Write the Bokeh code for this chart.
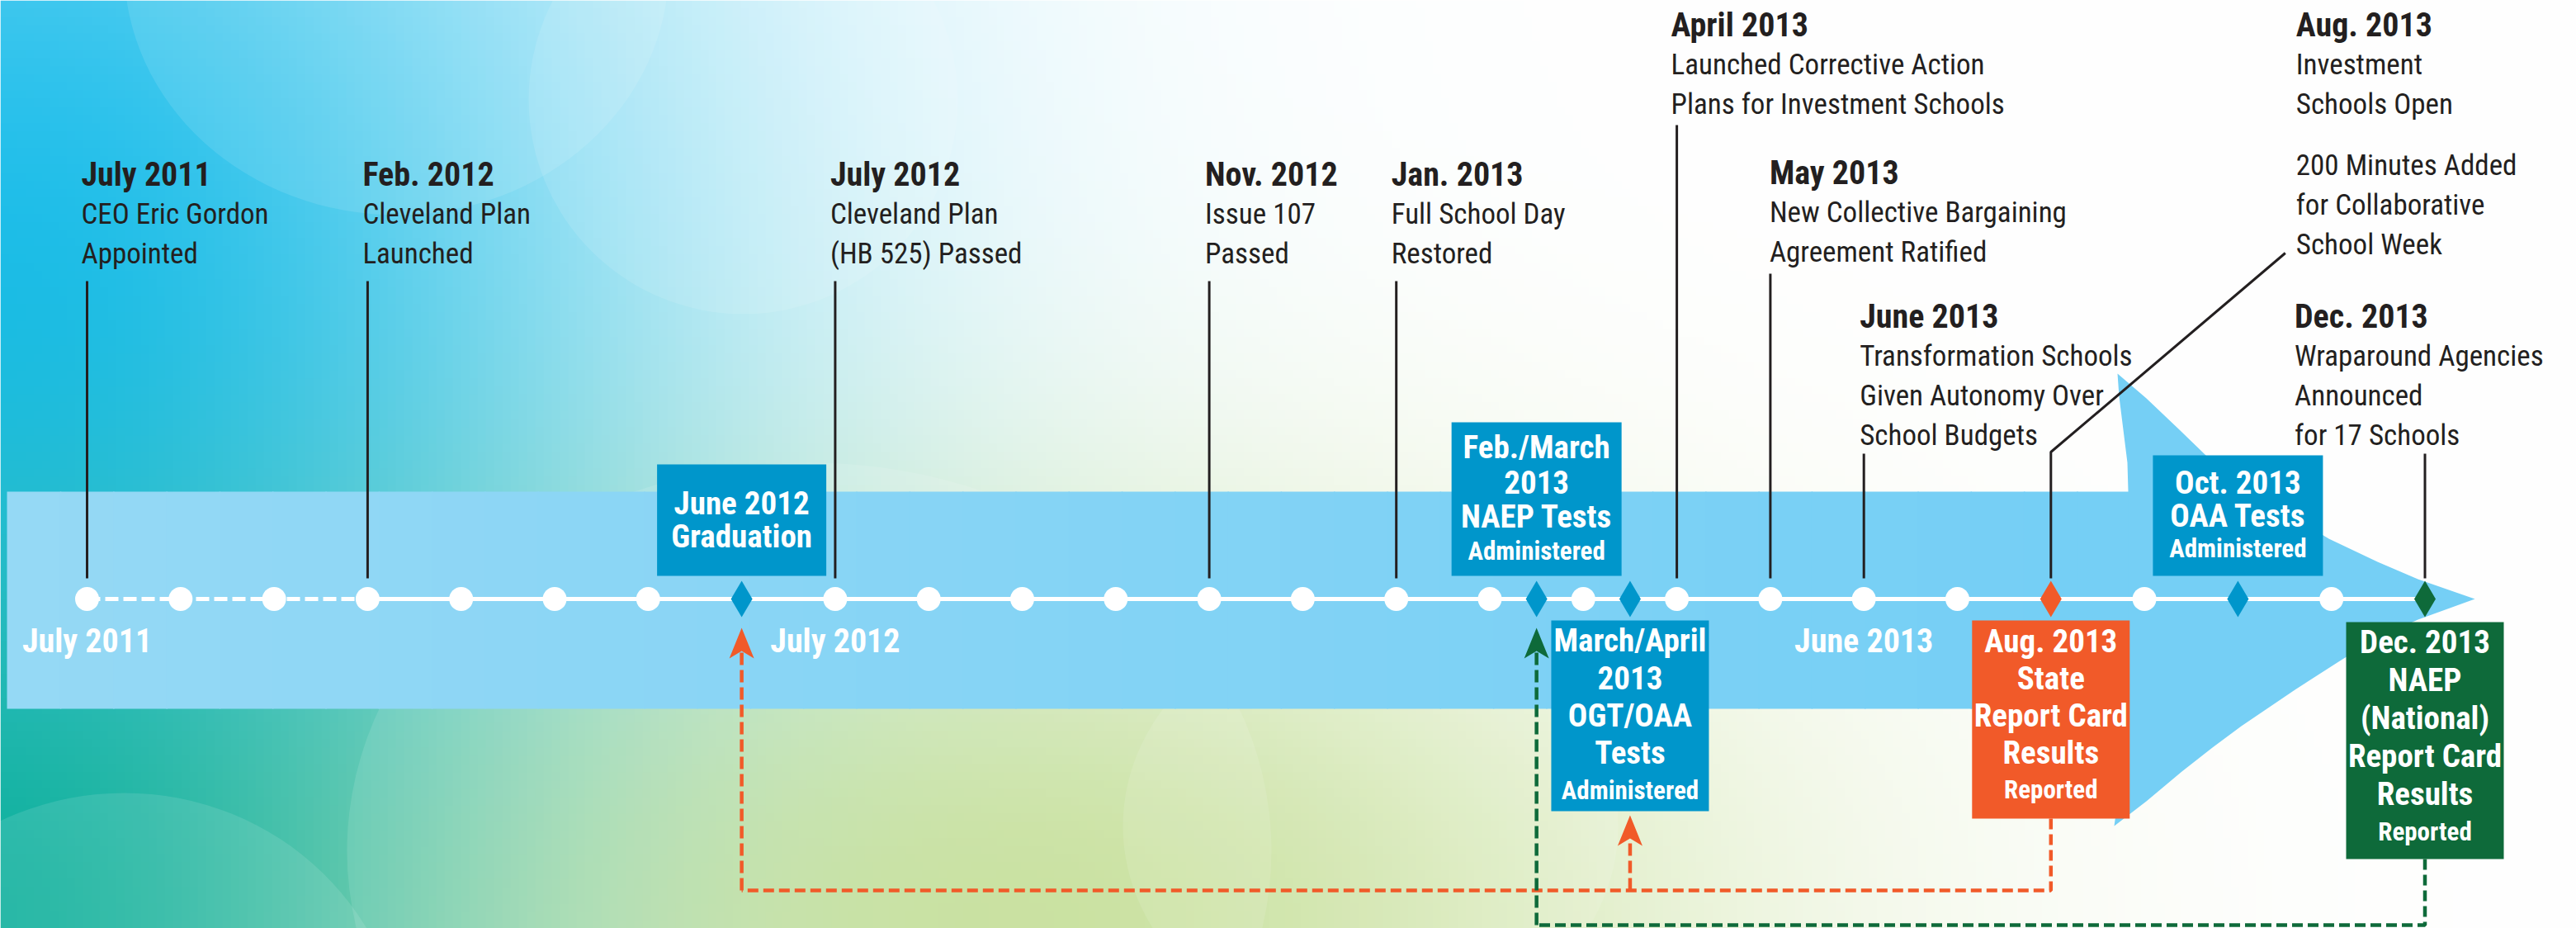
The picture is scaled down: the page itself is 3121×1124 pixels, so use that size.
import subprocess
import numpy as np
from bokeh.plotting import figure
from bokeh.models import Range1d
from bokeh.core.properties import value
from bokeh.embed import file_html
from bokeh.resources import INLINE

# ============================ DATA ============================
# Timeline slots (July 2011 -> Feb. 2012 is drawn compressed / dashed)
slot_month = ["July 2011", "", "", "Feb. 2012", "March 2012", "April 2012", "May 2012",
              "June 2012", "July 2012", "Aug. 2012", "Sept. 2012", "Oct. 2012",
              "Nov. 2012", "Dec. 2012", "Jan. 2013", "Feb. 2013", "March 2013",
              "April 2013", "May 2013", "June 2013", "July 2013", "Aug. 2013",
              "Sept. 2013", "Oct. 2013", "Nov. 2013", "Dec. 2013"]
slot_index = list(range(len(slot_month)))
compressed_until = 3

axis_label = ["July 2011", "July 2012", "June 2013"]
axis_label_slot = [0, 8, 19]

event_slot = [0, 3, 8, 12, 14, 17, 18, 19, 21, 25]
event_date = ["July 2011", "Feb. 2012", "July 2012", "Nov. 2012", "Jan. 2013",
              "April 2013", "May 2013", "June 2013", "Aug. 2013", "Dec. 2013"]
event_desc = [["CEO Eric Gordon", "Appointed"],
              ["Cleveland Plan", "Launched"],
              ["Cleveland Plan", "(HB 525) Passed"],
              ["Issue 107", "Passed"],
              ["Full School Day", "Restored"],
              ["Launched Corrective Action", "Plans for Investment Schools"],
              ["New Collective Bargaining", "Agreement Ratified"],
              ["Transformation Schools", "Given Autonomy Over", "School Budgets"],
              ["Investment", "Schools Open"],
              ["Wraparound Agencies", "Announced", "for 17 Schools"]]
note_slot = 21
note_desc = ["200 Minutes Added", "for Collaborative", "School Week"]

box_slot = [7, 15.5, 16.5, 21, 23, 25]
box_head = [["June 2012", "Graduation"],
            ["Feb./March", "2013", "NAEP Tests"],
            ["March/April", "2013", "OGT/OAA", "Tests"],
            ["Aug. 2013", "State", "Report Card", "Results"],
            ["Oct. 2013", "OAA Tests"],
            ["Dec. 2013", "NAEP", "(National)", "Report Card", "Results"]]
box_foot = ["", "Administered", "Administered", "Reported", "Administered", "Reported"]
box_kind = ["test", "test", "test", "state", "test", "national"]

# results boxes link back to the tests they report on
link_from = [21, 25]
link_to = [[7, 16.5], [15.5]]

# ============================ FONT PICK ============================
try:
    fams = subprocess.run(["fc-list", ":", "family"], capture_output=True,
                          text=True).stdout
except Exception:
    fams = ""
fam_set = set()
for ln in fams.splitlines():
    for f in ln.split(","):
        fam_set.add(f.strip())
CANDIDATES = [("Roboto Condensed", 0.86), ("Liberation Sans Narrow", 0.82),
              ("DejaVu Sans Condensed", 0.99), ("Liberation Sans", 1.0)]
FONT, WF = "Roboto Condensed", 0.86
for name, wf in CANDIDATES:
    if name in fam_set:
        FONT, WF = name, wf
        break
def fs(base):  # base sizes tuned for a 0.82-width narrow face
    return "%dpx" % round(base * 0.82 / WF)

# ============================ STYLE / LAYOUT ============================
INK = "#231f20"
KIND_COLOR = {"test": "#0096cb", "state": "#f15a29", "national": "#0e6a3a"}
X0, DX = 105.0, 113.3          # pixel of slot 0, pixels per slot
def sx(px): return (px - X0) / DX
def Y(py): return 1124 - py
def slot_px(s): return X0 + DX * s
TL = 725                        # timeline y (px from top)

ev_title_y = [211, 211, 211, 211, 211, 30, 209, 383, 30, 383]
ev_dx = [-7, -6, -6, -5, -6, -7, -1, -5, 297, -158]
ev_line_top = [340, 340, 340, 340, 340, 151, 331, 549, None, 549]
LINE_H = 48
note_y0 = 200

bx_top = [562, 511, 751, 751, 551, 753]
bx_bot = [697, 697, 982, 991, 697, 1040]
bx_w = [205, 206, 191, 191, 206, 191]
bx_y0 = [609, 541, 775, 776, 584, 777]
bx_step = [40, 42, 45.5, 45, 40, 46]
link_y = [1078, 1120]

# ============================ FIGURE ============================
p = figure(width=3121, height=1124, x_range=Range1d(sx(0), sx(3121)),
           y_range=Range1d(Y(1124), Y(0)), x_axis_type=None, y_axis_type=None,
           output_backend="svg", toolbar_location=None, min_border=0)
p.grid.visible = False
p.outline_line_color = None
p.background_fill_color = "white"
p.border_fill_color = "white"

# ---- background wash (decorative) ----
H, W = 113, 313
gy, gx = np.mgrid[0:H, 0:W].astype(float)
px = gx * 3121 / (W - 1)
py = gy * 1124 / (H - 1)
col = np.ones((H, W, 3)) * 255.0
def blend(c, cx, cy, sxx, syy, k=1.0):
    global col
    w = (k * np.exp(-(((px - cx) / sxx) ** 2 + ((py - cy) / syy) ** 2)))[..., None]
    col = col * (1 - w) + np.array(c, float) * w
blend((30, 190, 236), 0, 350, 800, 900)
blend((0, 173, 159), 0, 1124, 700, 500)
blend((192, 220, 140), 1250, 1124, 800, 450, 0.9)
img = np.zeros((H, W), dtype=np.uint32)
view = img.view(dtype=np.uint8).reshape((H, W, 4))
view[..., :3] = np.clip(col, 0, 255).astype(np.uint8)
view[..., 3] = 255
p.image_rgba(image=[np.flipud(img)], x=sx(0), y=Y(1124), dw=sx(3121) - sx(0), dh=1124)

# soft light circles
circ = [(480, -40, 330, 300), (150, 1290, 340, 330), (980, 1030, 560, 470),
        (1660, 1000, 300, 260), (900, 120, 260, 260)]
p.ellipse(x=[sx(c[0]) for c in circ], y=[Y(c[1]) for c in circ],
          width=[2 * c[2] / DX for c in circ], height=[2 * c[3] for c in circ],
          fill_color="white", fill_alpha=0.11, line_color=None)

# ---- arrow band ----
n = 40
edges = np.linspace(8, 2580, n + 1)
c_left, c_right = np.array([149, 217, 245]), np.array([117, 207, 245])
cols = []
for i in range(n):
    t = i / (n - 1)
    c = (c_left * (1 - t) + c_right * t).astype(int)
    cols.append("#%02x%02x%02x" % tuple(c))
p.quad(left=[sx(e) for e in edges[:-1]], right=[sx(e + 1.5) for e in edges[1:]],
       bottom=Y(858), top=Y(595), fill_color=cols, line_color=None)
head = [(2578, 595), (2577, 560), (2572, 520), (2567, 480), (2565, 452),
        (2600, 482), (2640, 520), (2672, 551), (2720, 590), (2780, 627), (2821, 652),
        (2880, 680), (2929, 701), (2998, 725),
        (2929, 750), (2880, 772), (2836, 799), (2780, 835), (2715, 879), (2680, 905),
        (2643, 934), (2600, 970), (2561, 1000), (2568, 950), (2575, 900), (2578, 858)]
p.patch(x=[sx(h[0]) for h in head], y=[Y(h[1]) for h in head],
        fill_color="#75cff5", line_color=None)

# ---- timeline ----
p.line(x=[slot_index[0], slot_index[compressed_until]], y=[Y(TL)] * 2,
       line_color="white", line_width=5, line_dash="16 6")
p.line(x=[slot_index[compressed_until], slot_index[-1]], y=[Y(TL)] * 2,
       line_color="white", line_width=5)
dot_slots = [s for s in slot_index if s not in box_slot]
p.scatter(x=dot_slots, y=[Y(TL)] * len(dot_slots), size=29, marker="circle",
          fill_color="white", line_color=None)

# ---- event leaders & text ----
for s, top in zip(event_slot, ev_line_top):
    if top is not None:
        p.line(x=[s, s], y=[Y(top), Y(700)], line_color=INK, line_width=3)
ns = note_slot
p.line(x=[sx(slot_px(ns) + ev_dx[event_slot.index(ns)] - 13), ns, ns],
       y=[Y(306), Y(547), Y(700)], line_color=INK, line_width=3)

tx, ty, tt = [], [], []
for s, d, desc, y0, dx in zip(event_slot, event_date, event_desc, ev_title_y, ev_dx):
    tx.append(sx(slot_px(s) + dx)); ty.append(Y(y0)); tt.append(d)
p.text(x=tx, y=ty, text=tt, text_font=value(FONT), text_font_style="bold",
       text_font_size=fs(42), text_color=INK, text_align="left", text_baseline="middle")
rx, ry, rt = [], [], []
for s, desc, y0, dx in zip(event_slot, event_desc, ev_title_y, ev_dx):
    for k, line in enumerate(desc):
        rx.append(sx(slot_px(s) + dx)); ry.append(Y(y0 + LINE_H * (k + 1))); rt.append(line)
ndx = ev_dx[event_slot.index(note_slot)]
for k, line in enumerate(note_desc):
    rx.append(sx(slot_px(note_slot) + ndx)); ry.append(Y(note_y0 + LINE_H * k)); rt.append(line)
p.text(x=rx, y=ry, text=rt, text_font=value(FONT), text_font_size=fs(36.5),
       text_color=INK, text_align="left", text_baseline="middle")

# ---- axis month labels ----
p.text(x=axis_label_slot, y=[Y(776)] * len(axis_label_slot), text=axis_label,
       text_font=value(FONT), text_font_style="bold", text_font_size=fs(42),
       text_color="white", text_align="center", text_baseline="middle")

# ---- dashed links (results -> tests) ----
for src, targets, ly in zip(link_from, link_to, link_y):
    i = box_slot.index(src)
    c = KIND_COLOR[box_kind[i]]
    far = min(targets)
    p.line(x=[src, src, far], y=[Y(bx_bot[i]), Y(ly), Y(ly)], line_color=c,
           line_width=4.5, line_dash="13 6")
    for t in targets:
        j = box_slot.index(t)
        tip = bx_bot[j] + 5 if bx_top[j] > TL else TL + 35
        p.line(x=[t, t], y=[Y(ly), Y(tip + 28)], line_color=c, line_width=4.5,
               line_dash="15 6")
        ah = 15 / DX
        p.patch(x=[t, t + ah, t, t - ah], y=[Y(tip), Y(tip + 37), Y(tip + 28), Y(tip + 37)],
                fill_color=c, line_color=None)

# ---- diamonds ----
dw = 13 / DX
p.patches(xs=[[s - dw, s, s + dw, s] for s in box_slot],
          ys=[[Y(TL), Y(TL - 22), Y(TL), Y(TL + 22)] for _ in box_slot],
          fill_color=[KIND_COLOR[k] for k in box_kind], line_color=None)

# ---- boxes ----
p.rect(x=box_slot, y=[Y((a + b) / 2) for a, b in zip(bx_top, bx_bot)],
       width=bx_w, height=[b - a for a, b in zip(bx_top, bx_bot)],
       width_units="screen", height_units="screen",
       fill_color=[KIND_COLOR[k] for k in box_kind], line_color=None)
hx, hy, ht, fx, fy, ft = [], [], [], [], [], []
for s, lines, foot, y0, st in zip(box_slot, box_head, box_foot, bx_y0, bx_step):
    for k, line in enumerate(lines):
        hx.append(s); hy.append(Y(y0 + st * k)); ht.append(line)
    if foot:
        fx.append(s); fy.append(Y(y0 + st * len(lines))); ft.append(foot)
p.text(x=hx, y=hy, text=ht, text_font=value(FONT), text_font_style="bold",
       text_font_size=fs(41), text_color="white", text_align="center", text_baseline="middle")
p.text(x=fx, y=fy, text=ft, text_font=value(FONT), text_font_style="bold",
       text_font_size=fs(33), text_color="white", text_align="center", text_baseline="middle")

open("out.html", "w").write(file_html(p, INLINE))
